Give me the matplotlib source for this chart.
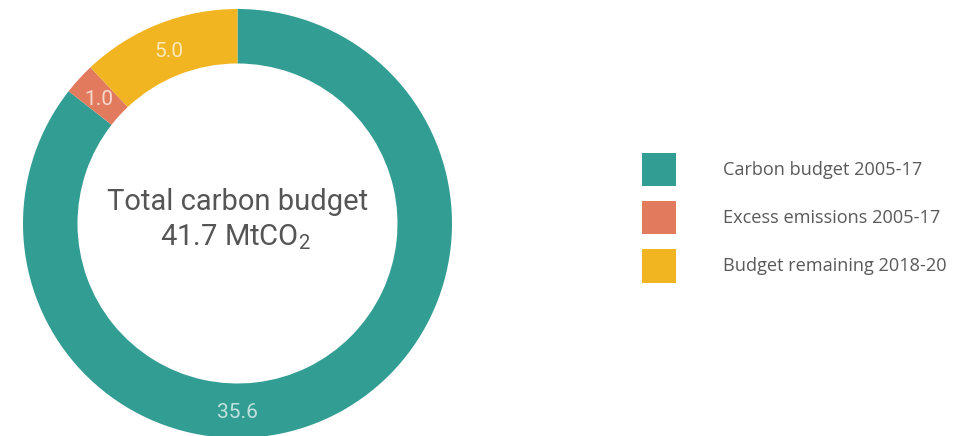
import matplotlib.pyplot as plt
from matplotlib.patches import Rectangle
import numpy as np

# data (MtCO2)
categories = ["Carbon budget 2005-17", "Excess emissions 2005-17",
              "Budget remaining 2018-20"]
values = [35.6, 1.0, 5.0]
value_labels = ["35.6", "1.0", "5.0"]
colors = ["#329d93", "#e27b5e", "#f2b522"]
total_label = "41.7"

W, H = 969, 436
fig = plt.figure(figsize=(W / 100, H / 100), dpi=100)

# donut axes, centre at (237.5, 223.5) px from top-left, radius 214.5 px
cx, cy, r = 237.5, 223.5, 214.5
ax = fig.add_axes([(cx - r) / W, (H - cy - r) / H, 2 * r / W, 2 * r / H])
ring = 54.5 / r
wedges, _ = ax.pie(values, colors=colors, startangle=90, counterclock=False,
                   radius=1, wedgeprops=dict(width=ring, linewidth=0))
ax.set_xlim(-1, 1)
ax.set_ylim(-1, 1)
ax.set_aspect("equal")
ax.axis("off")

# value labels in the middle of the ring
lr = 1 - ring / 2
for i, (w, txt) in enumerate(zip(wedges, value_labels)):
    ang = np.deg2rad((w.theta1 + w.theta2) / 2)
    if i == 0:
        ang = np.deg2rad(-90)  # big wedge labelled at the bottom
    ax.text(lr * np.cos(ang), lr * np.sin(ang) - 0.01, txt, ha="center",
            va="center", fontsize=15, family="Roboto", color="white",
            alpha=0.7)

# centre text
plt.rcParams["mathtext.fontset"] = "custom"
plt.rcParams["mathtext.rm"] = "Roboto"
ax.text(0, 0.1, "Total carbon budget", ha="center", va="center",
        fontsize=21, family="Roboto", color="#555555")
ax.text(-0.01, -0.065, total_label + r" MtCO$_\mathregular{2}$",
        ha="center", va="center", fontsize=21, family="Roboto",
        color="#555555")

# legend, drawn in pixel coordinates
lax = fig.add_axes([0, 0, 1, 1])
lax.set_xlim(0, W)
lax.set_ylim(H, 0)
lax.axis("off")
x0, y0, size, step = 642.5, 152.5, 33.5, 48.3
for i, (lab, c) in enumerate(zip(categories, colors)):
    y = y0 + i * step
    lax.add_patch(Rectangle((x0, y), size, size, facecolor=c,
                            edgecolor="none"))
    lax.text(723, y + size / 2 + 0.5, lab, ha="left", va="center",
             fontsize=13.1, family="Open Sans", color="#595959")

fig.savefig("out.png", dpi=100)
